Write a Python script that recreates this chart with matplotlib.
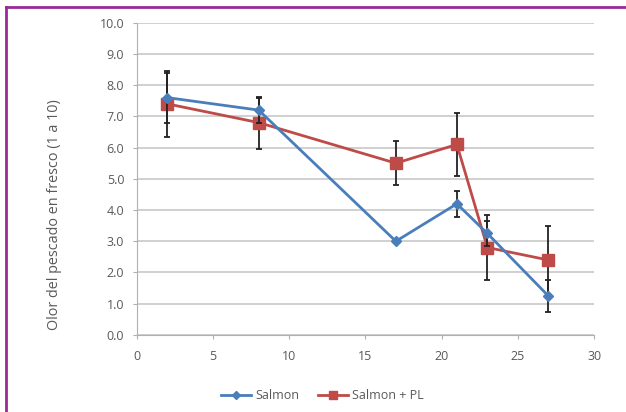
import matplotlib.pyplot as plt
from matplotlib.lines import Line2D

days = [2, 8, 17, 21, 23, 27]
salmon = [7.6, 7.2, 3.0, 4.2, 3.25, 1.25]
salmon_err = [0.8, 0.4, 0.0, 0.42, 0.4, 0.5]
salmon_pl = [7.4, 6.8, 5.5, 6.1, 2.8, 2.4]
salmon_pl_err = [1.05, 0.83, 0.7, 1.02, 1.05, 1.1]

y_ticks = [0, 1, 2, 3, 4, 5, 6, 7, 8, 9, 10]
x_ticks = [0, 5, 10, 15, 20, 25, 30]

BLUE = "#4a7ebb"
RED = "#be4b48"
GRAY = "#595959"

plt.rcParams["font.family"] = ["Open Sans", "DejaVu Sans"]

fig = plt.figure(figsize=(6.26, 4.12), dpi=100)
ax = fig.add_axes([0.2184, 0.187, 0.7306, 0.758])

ax.errorbar(days, salmon, yerr=salmon_err, color=BLUE, marker="D", markersize=5.5,
            linewidth=2, ecolor="#222222", elinewidth=1.3, capsize=2.5, capthick=1.3,
            zorder=3)
ax.errorbar(days, salmon_pl, yerr=salmon_pl_err, color=RED, marker="s", markersize=8,
            linewidth=2, ecolor="#222222", elinewidth=1.3, capsize=2.5, capthick=1.3,
            zorder=2)

ax.set_xlim(0, 30)
ax.set_ylim(0, 10)
ax.set_xticks(x_ticks)
ax.set_yticks(y_ticks)
ax.set_yticklabels([f"{v:.1f}" for v in y_ticks])
ax.grid(axis="y", color="#c8c8c8", linewidth=1.2)
ax.set_axisbelow(True)
for side in ["top", "right"]:
    ax.spines[side].set_visible(False)
for side in ["left", "bottom"]:
    ax.spines[side].set_color("#b0b0b0")
ax.tick_params(axis="both", colors="#b0b0b0", labelcolor=GRAY, labelsize=9, length=3)
ax.tick_params(axis="x", pad=8)
ax.tick_params(axis="y", pad=6)

ax.set_ylabel("Olor del pescado en fresco (1 a 10)", color=GRAY, fontsize=10.4)
ax.yaxis.set_label_coords(-0.163, 0.384)

handles = [
    Line2D([], [], color=BLUE, marker="D", markersize=4, linewidth=2),
    Line2D([], [], color=RED, marker="s", markersize=6, linewidth=2),
]
leg = fig.legend(handles, ["Salmon", "Salmon + PL"], loc="center",
                 bbox_to_anchor=(0.515, 0.04), ncol=2, frameon=False,
                 fontsize=9, handlelength=2.4, columnspacing=1.5, handletextpad=0.3)
for t in leg.get_texts():
    t.set_color(GRAY)

fig.add_artist(Line2D([0.009, 0.009], [0, 0.983], color="#9a2a9a", linewidth=2))
fig.add_artist(Line2D([0.009, 1.0], [0.983, 0.983], color="#9a2a9a", linewidth=2))

fig.savefig("out.png", dpi=100)
